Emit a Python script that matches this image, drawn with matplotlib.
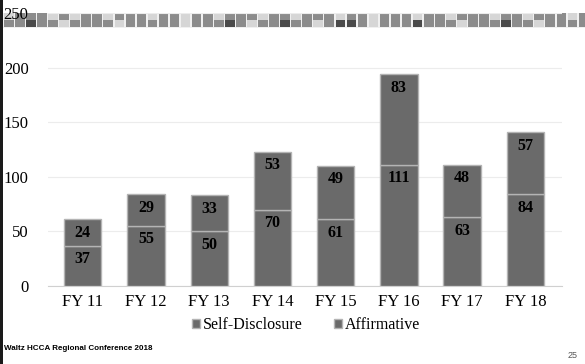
import matplotlib.pyplot as plt
import matplotlib.patches as mpatches
import numpy as np

years = ["FY 11", "FY 12", "FY 13", "FY 14", "FY 15", "FY 16", "FY 17", "FY 18"]
self_disclosure = [37, 55, 50, 70, 61, 111, 63, 84]
affirmative = [24, 29, 33, 53, 49, 83, 48, 57]

# decorative header squares (L=light, M=medium, D=dark)
top_row = "LMMMLMLMMLMMMLMMLMMLMMMLMMLMMMLMMLMMMLMMLMMMLMMLMMMLM"
bottom_row = "MMDMMLMMMMLMMMMMLMMMDMLMMDMMLMDDMLMMMDMMMLMMMDMMLMMMM"
shade = {"L": "#d6d6d6", "M": "#8c8c8c", "D": "#4a4a4a"}

plt.rcParams["font.family"] = ["Liberation Serif", "DejaVu Serif"]

fig = plt.figure(figsize=(5.85, 3.64), dpi=100)
W, H = 585, 364

# header band + squares
fig.patches.append(mpatches.Rectangle((3 / W, 1 - 28 / H), 582 / W, 15 / H,
                                      transform=fig.transFigure, facecolor="#f0f0f0",
                                      edgecolor="none", zorder=0))
for chars, y0 in [(top_row, 13), (bottom_row, 20.5)]:
    for i, c in enumerate(chars):
        x0 = 4 + i * 11.05
        fig.patches.append(mpatches.Rectangle((x0 / W, 1 - (y0 + 6.8) / H), 9.6 / W, 6.8 / H,
                                              transform=fig.transFigure, facecolor=shade[c],
                                              edgecolor="none", zorder=0))

# left dark edge
fig.patches.append(mpatches.Rectangle((0, 0), 2.5 / W, 1, transform=fig.transFigure,
                                      facecolor="#1a1a1a", edgecolor="none"))

ax = fig.add_axes([48 / W, 1 - 286 / H, (562 - 48) / W, (286 - 13) / H])
ax.set_zorder(2)
ax.patch.set_alpha(0)

x = np.arange(len(years))
bw = 0.59
ax.bar(x, self_disclosure, bw, color="#6a6a6a", edgecolor="#b4b4b4", linewidth=1.0, zorder=3)
ax.bar(x, affirmative, bw, bottom=self_disclosure, color="#6a6a6a", edgecolor="#b4b4b4",
       linewidth=1.0, zorder=3)

# labels sit near the top inside each segment
off = -13.5 * 72 / 100
for i in range(len(years)):
    ax.annotate(str(self_disclosure[i]), (x[i], self_disclosure[i]), xytext=(0, off),
                textcoords="offset points", ha="center", va="center",
                fontsize=11.5, fontweight="bold", color="black", zorder=4)
    ax.annotate(str(affirmative[i]), (x[i], self_disclosure[i] + affirmative[i]), xytext=(0, off),
                textcoords="offset points", ha="center", va="center",
                fontsize=11.5, fontweight="bold", color="black", zorder=4)

ax.set_ylim(0, 250)
ax.set_xlim(-0.55, len(years) - 0.42)
ax.set_yticks([0, 50, 100, 150, 200, 250])
ax.set_xticks(x)
ax.set_xticklabels(years)
ax.tick_params(axis="both", length=0, labelsize=12, colors="black")
ax.tick_params(axis="y", pad=14)
ax.tick_params(axis="x", pad=6)
ax.yaxis.grid(True, color="#ececec", linewidth=0.8, zorder=0)
ax.set_axisbelow(True)
for s in ["top", "right", "left"]:
    ax.spines[s].set_visible(False)
ax.spines["bottom"].set_color("#d0d0d0")

handles = [mpatches.Patch(facecolor="#6a6a6a", edgecolor="#b4b4b4", label="Self-Disclosure"),
           mpatches.Patch(facecolor="#6a6a6a", edgecolor="#b4b4b4", label="Affirmative")]
fig.legend(handles=handles, loc="center", bbox_to_anchor=(306 / W, 1 - 325 / H), ncol=2,
           frameon=False, fontsize=11.5, handlelength=0.5, handleheight=0.5, handletextpad=0.15,
           columnspacing=2.0)

fig.text(4 / W, 1 - 349 / H, "Waltz HCCA Regional Conference 2018", fontsize=5.8,
         fontweight="bold", family=["Liberation Sans", "DejaVu Sans"], va="center")
fig.text(578 / W, 1 - 355 / H, "25", fontsize=6.5, color="#555555",
         family=["Liberation Sans", "DejaVu Sans"], ha="right", va="center")

fig.savefig("out.png", dpi=100)
